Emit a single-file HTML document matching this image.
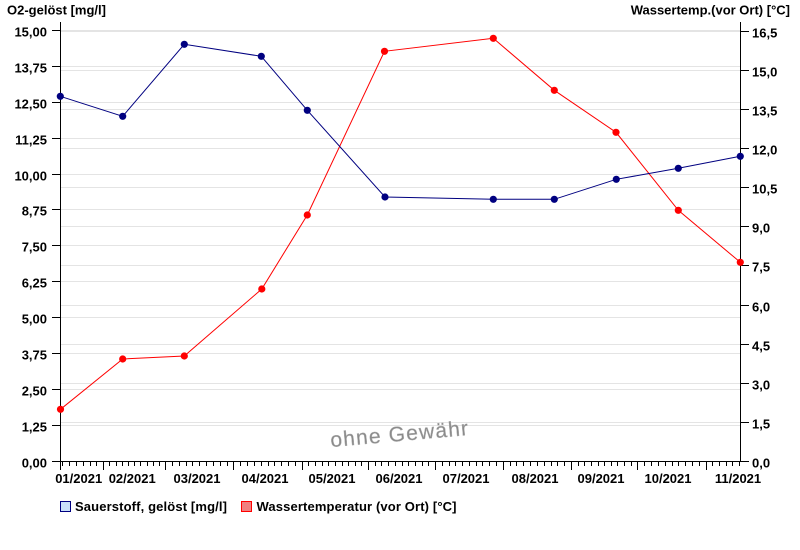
<!DOCTYPE html>
<html><head><meta charset="utf-8"><style>
html,body{margin:0;padding:0;background:#fff;}
svg{display:block;}
text{font-family:"Liberation Sans",Arial,sans-serif;font-weight:bold;font-size:13px;fill:#000;}
</style></head><body>
<svg width="800" height="550" viewBox="0 0 800 550" xmlns="http://www.w3.org/2000/svg">
<rect width="800" height="550" fill="#fff"/>
<!-- gridlines -->
<g stroke="#e4e4e4" stroke-width="1" shape-rendering="crispEdges">
<path d="M61 30.5H740M61 66.5H740M61 102.5H740M61 138.5H740M61 174.5H740M61 209.5H740M61 245.5H740M61 281.5H740M61 317.5H740M61 353.5H740M61 389.5H740M61 425.5H740"/>
<path d="M61 31.5H740M61 70.5H740M61 109.5H740M61 148.5H740M61 187.5H740M61 226.5H740M61 265.5H740M61 305.5H740M61 344.5H740M61 383.5H740M61 422.5H740"/>
</g>
<!-- axes -->
<g stroke="#000" stroke-width="1" shape-rendering="crispEdges" fill="none">
<path d="M60.5 22V470M740.5 22V462M60 461.5H741"/>
<path d="M52 30.5H60M52 66.5H60M52 102.5H60M52 138.5H60M52 174.5H60M52 209.5H60M52 245.5H60M52 281.5H60M52 317.5H60M52 353.5H60M52 389.5H60M52 425.5H60M52 461.5H60"/>
<path d="M741 31.5H749M741 70.5H749M741 109.5H749M741 148.5H749M741 187.5H749M741 226.5H749M741 265.5H749M741 305.5H749M741 344.5H749M741 383.5H749M741 422.5H749M741 461.5H749"/>
<path d="M103.5 462v8M165.5 462v8M233.5 462v8M302.5 462v8M368.5 462v8M435.5 462v8M503.5 462v8M571.5 462v8M637.5 462v8M706.5 462v8"/>
<path d="M62.5 462v4M69.5 462v4M76.5 462v4M83.5 462v4M90.5 462v4M96.5 462v4
M109.5 462v4M116.5 462v4M122.5 462v4M128.5 462v4M134.5 462v4M140.5 462v4M147.5 462v4M153.5 462v4M159.5 462v4
M172.5 462v4M179.5 462v4M186.5 462v4M192.5 462v4M199.5 462v4M206.5 462v4M213.5 462v4M220.5 462v4M227.5 462v4
M240.5 462v4M247.5 462v4M254.5 462v4M261.5 462v4M268.5 462v4M274.5 462v4M281.5 462v4M288.5 462v4M295.5 462v4
M308.5 462v4M315.5 462v4M322.5 462v4M328.5 462v4M335.5 462v4M342.5 462v4M348.5 462v4M355.5 462v4M361.5 462v4
M375.5 462v4M381.5 462v4M388.5 462v4M395.5 462v4M402.5 462v4M408.5 462v4M415.5 462v4M422.5 462v4M428.5 462v4
M442.5 462v4M449.5 462v4M455.5 462v4M462.5 462v4M469.5 462v4M476.5 462v4M482.5 462v4M489.5 462v4M496.5 462v4
M510.5 462v4M516.5 462v4M523.5 462v4M530.5 462v4M537.5 462v4M544.5 462v4M551.5 462v4M557.5 462v4M564.5 462v4
M578.5 462v4M584.5 462v4M591.5 462v4M598.5 462v4M604.5 462v4M611.5 462v4M617.5 462v4M624.5 462v4M631.5 462v4
M644.5 462v4M651.5 462v4M658.5 462v4M665.5 462v4M672.5 462v4M678.5 462v4M685.5 462v4M692.5 462v4M699.5 462v4
M712.5 462v4M719.5 462v4M726.5 462v4M732.5 462v4M739.5 462v4"/>
</g>
<!-- axis titles -->
<text x="7" y="14.5">O2-gelöst [mg/l]</text>
<text x="790" y="14.5" text-anchor="end">Wassertemp.(vor Ort) [°C]</text>
<!-- left labels -->
<g text-anchor="end">
<text x="47" y="36.5">15,00</text>
<text x="47" y="72.5">13,75</text>
<text x="47" y="108.5">12,50</text>
<text x="47" y="144.5">11,25</text>
<text x="47" y="180.5">10,00</text>
<text x="47" y="215.5">8,75</text>
<text x="47" y="251.5">7,50</text>
<text x="47" y="287.5">6,25</text>
<text x="47" y="323.5">5,00</text>
<text x="47" y="359.5">3,75</text>
<text x="47" y="395.5">2,50</text>
<text x="47" y="431.5">1,25</text>
<text x="47" y="467.5">0,00</text>
</g>
<!-- right labels -->
<g>
<text x="752" y="37.5">16,5</text>
<text x="752" y="76.5">15,0</text>
<text x="752" y="115.5">13,5</text>
<text x="752" y="154.5">12,0</text>
<text x="752" y="193.5">10,5</text>
<text x="752" y="232.5">9,0</text>
<text x="752" y="271.5">7,5</text>
<text x="752" y="311.5">6,0</text>
<text x="752" y="350.5">4,5</text>
<text x="752" y="389.5">3,0</text>
<text x="752" y="428.5">1,5</text>
<text x="752" y="467.5">0,0</text>
</g>
<!-- x labels -->
<g text-anchor="middle">
<text x="78.7" y="483">01/2021</text>
<text x="132.2" y="483">02/2021</text>
<text x="197" y="483">03/2021</text>
<text x="265" y="483">04/2021</text>
<text x="332" y="483">05/2021</text>
<text x="399" y="483">06/2021</text>
<text x="466" y="483">07/2021</text>
<text x="535" y="483">08/2021</text>
<text x="601" y="483">09/2021</text>
<text x="668" y="483">10/2021</text>
<text x="738" y="483">11/2021</text>
</g>
<!-- watermark -->
<text x="400" y="441" text-anchor="middle" transform="rotate(-5 400 437)" style="font-weight:normal;font-size:21px;letter-spacing:1.2px;fill:#8a8a8a;stroke:#b0b0b0;stroke-width:0.4">ohne Gewähr</text>
<!-- red series -->
<polyline fill="none" stroke="#ff0000" stroke-width="1" points="60.5,409.3 122.7,359 184.3,356 261.8,289 307.3,215 384.5,51.3 493.3,38.3 554.3,90.3 616,132.3 678.3,210.3 740.3,262.3"/>
<g fill="#ff0000">
<circle cx="60.5" cy="409.3" r="3.6"/><circle cx="122.7" cy="359" r="3.6"/><circle cx="184.3" cy="356" r="3.6"/><circle cx="261.8" cy="289" r="3.6"/><circle cx="307.3" cy="215" r="3.6"/><circle cx="384.5" cy="51.3" r="3.6"/><circle cx="493.3" cy="38.3" r="3.6"/><circle cx="554.3" cy="90.3" r="3.6"/><circle cx="616" cy="132.3" r="3.6"/><circle cx="678.3" cy="210.3" r="3.6"/><circle cx="740.3" cy="262.3" r="3.6"/>
</g>
<!-- blue series -->
<polyline fill="none" stroke="#000080" stroke-width="1" points="60.3,96.3 122.7,116.3 184.3,44.3 261.3,56.3 307.3,110.3 385,197 493.3,199.3 554.3,199.3 616.3,179.3 678.3,168.3 740.3,156.3"/>
<g fill="#000080">
<circle cx="60.3" cy="96.3" r="3.6"/><circle cx="122.7" cy="116.3" r="3.6"/><circle cx="184.3" cy="44.3" r="3.6"/><circle cx="261.3" cy="56.3" r="3.6"/><circle cx="307.3" cy="110.3" r="3.6"/><circle cx="385" cy="197" r="3.6"/><circle cx="493.3" cy="199.3" r="3.6"/><circle cx="554.3" cy="199.3" r="3.6"/><circle cx="616.3" cy="179.3" r="3.6"/><circle cx="678.3" cy="168.3" r="3.6"/><circle cx="740.3" cy="156.3" r="3.6"/>
</g>
<!-- legend -->
<rect x="60.5" y="501.5" width="10" height="10" fill="#c8e0fa" stroke="#000080" shape-rendering="crispEdges"/>
<text x="75" y="511" textLength="152" lengthAdjust="spacing">Sauerstoff, gelöst [mg/l]</text>
<rect x="241.5" y="501.5" width="10" height="10" fill="#f08080" stroke="#ff0000" shape-rendering="crispEdges"/>
<text x="256.5" y="511" textLength="200" lengthAdjust="spacing">Wassertemperatur (vor Ort) [°C]</text>
</svg>
</body></html>
